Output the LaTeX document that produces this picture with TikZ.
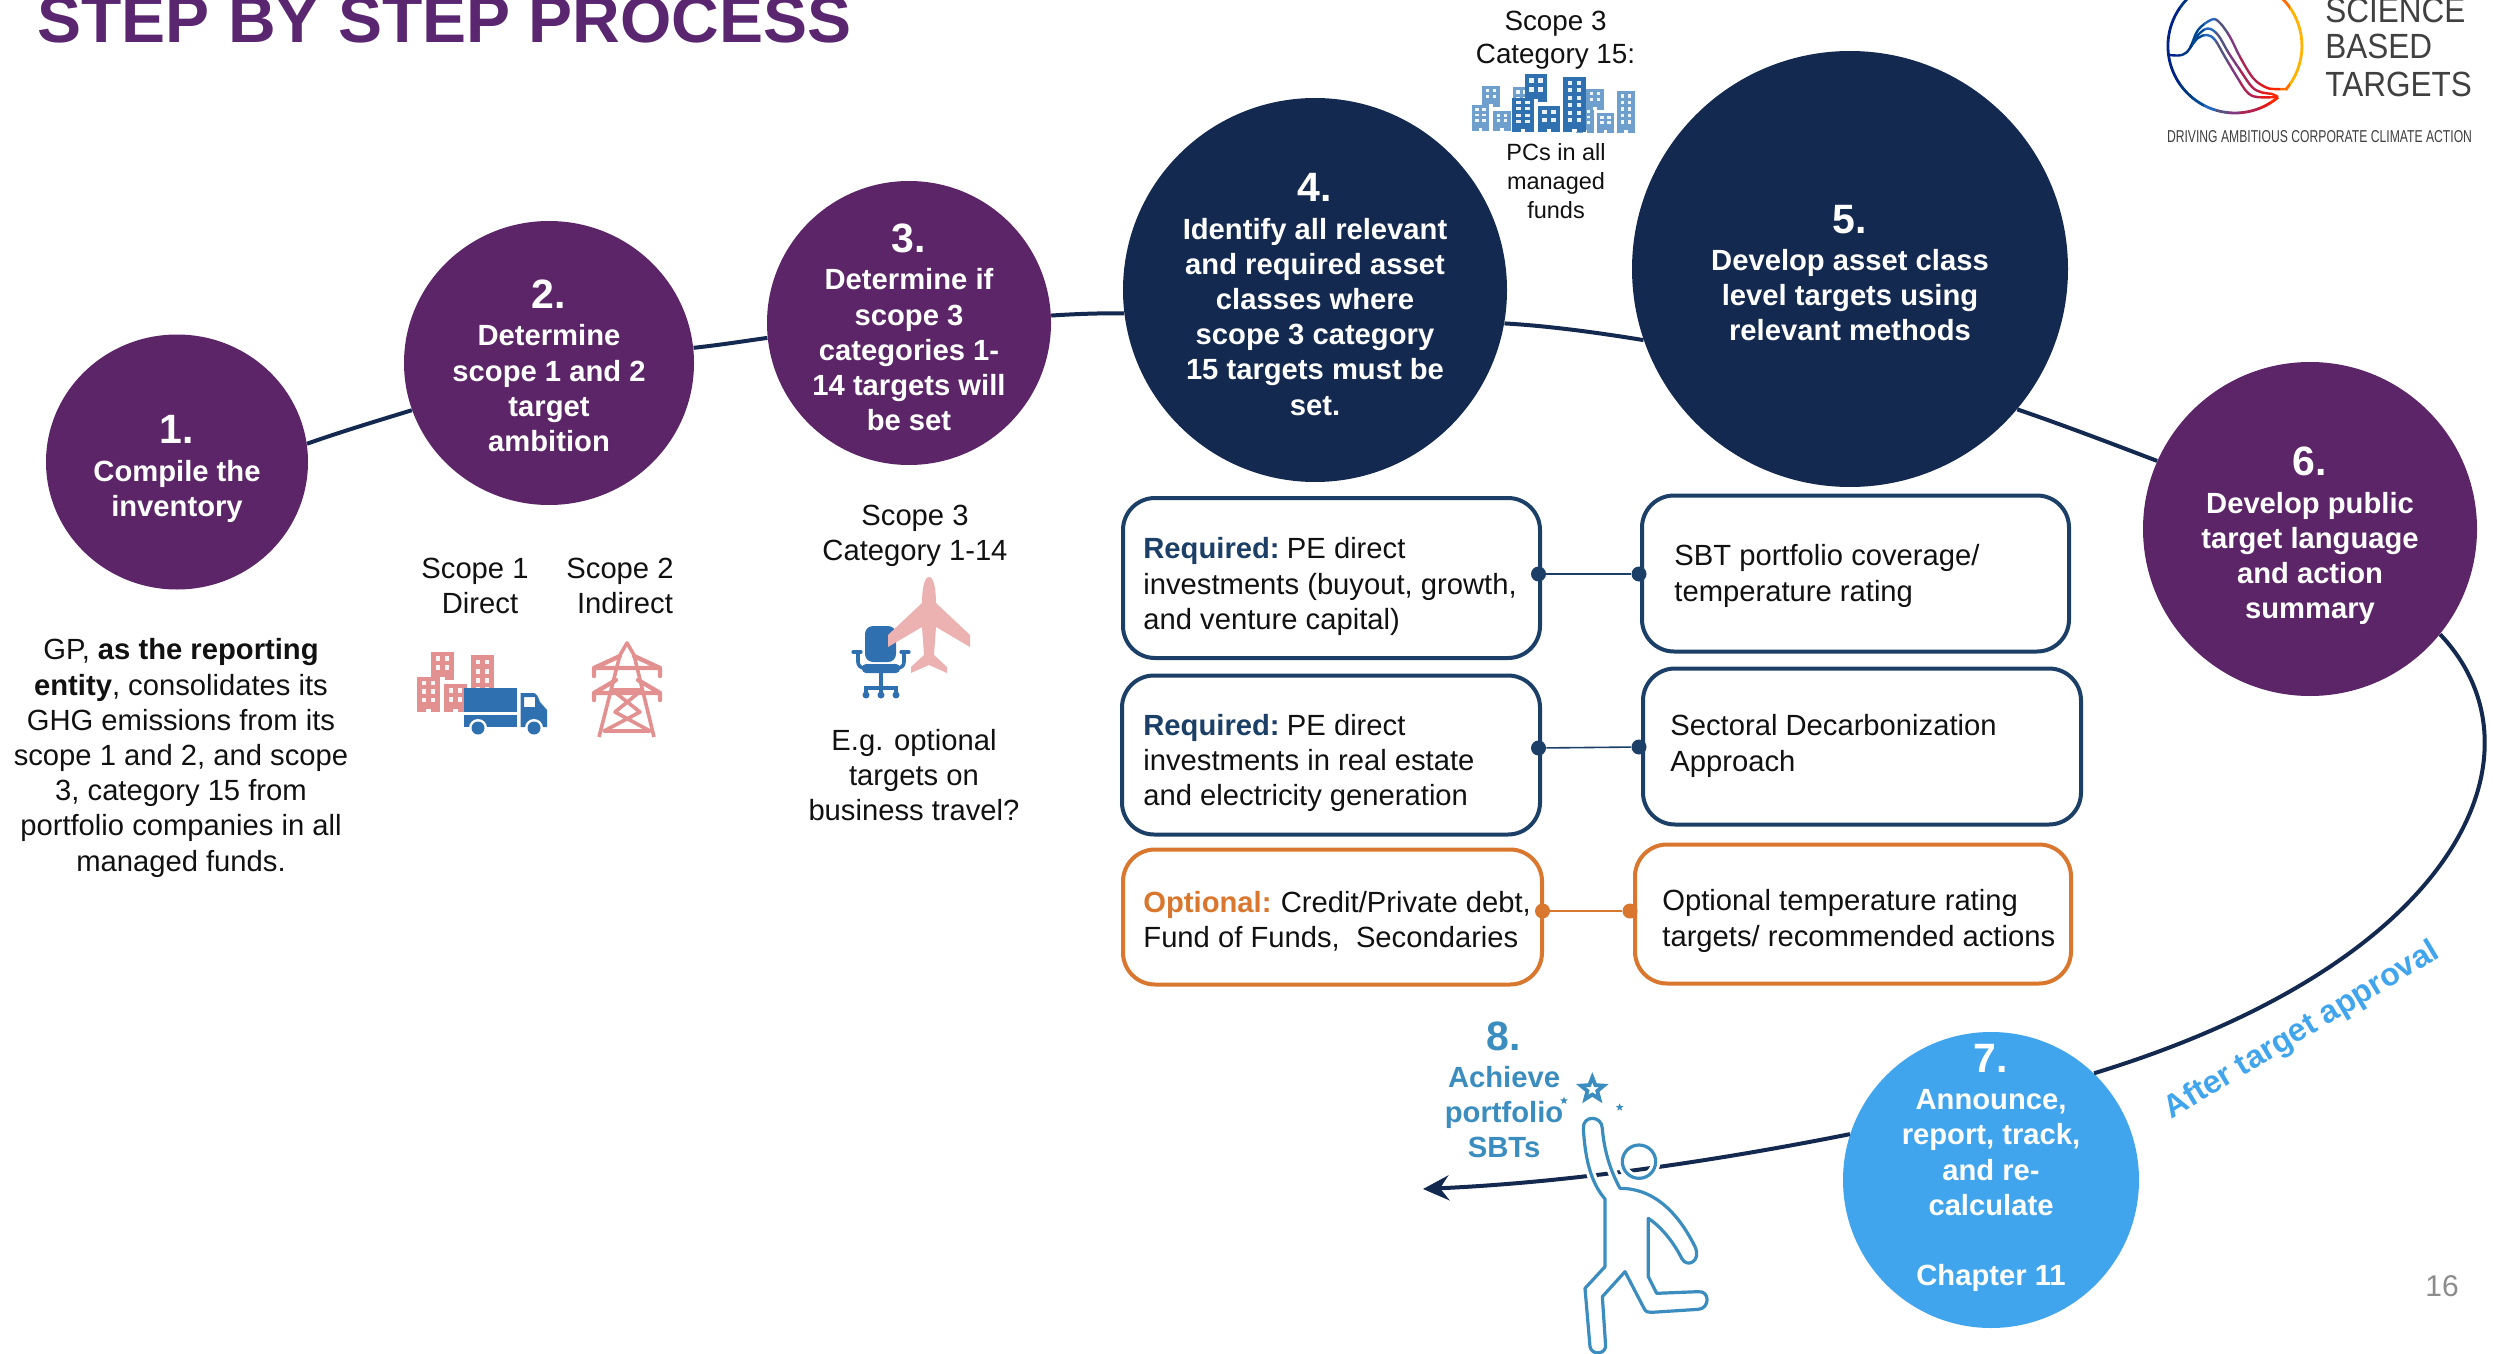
\documentclass[tikz,border=0pt]{standalone}
\usepackage{fontspec}
\setmainfont{Liberation Sans}
\usetikzlibrary{arrows.meta,shapes.geometric}
\definecolor{purp}{HTML}{5C2568}
\definecolor{titlep}{HTML}{5B2670}
\definecolor{navy}{HTML}{14294F}
\definecolor{skyb}{HTML}{41A5EE}
\definecolor{boxb}{HTML}{1B3F66}
\definecolor{oran}{HTML}{D9772F}
\definecolor{eightb}{HTML}{3A8DBE}
\definecolor{pink}{HTML}{E39090}
\definecolor{lpink}{HTML}{ECB2B2}
\definecolor{iconb}{HTML}{2F70B0}
\definecolor{lightb}{HTML}{6F9FCC}
\definecolor{ink}{HTML}{111111}
\tikzset{
  x=0.5pt,y=-0.5pt,
  stepdisc/.style={circle,inner sep=0pt,fill=#1,draw=none},
  stepell/.style={ellipse,inner sep=0pt,fill=#1,draw=none},
  steptxt/.style={align=center,text=white,inner sep=0pt,font=\bodyb},
  plaintxt/.style={align=center,text=ink,inner sep=0pt,font=\bodyr},
  boxtxt/.style={align=left,text=ink,inner sep=0pt,anchor=west,font=\bodyr},
  conbox/.style={draw=#1,line width=2pt,rounded corners=16pt,fill=white,inner sep=0pt,outer sep=0pt,anchor=north west},
  dotn/.style={circle,fill=#1,inner sep=0pt,minimum size=7.5pt},
  link/.style={draw=#1,line width=0.8pt},
  mainc/.style={draw=navy,line width=2pt},
  figline/.style={draw=eightb,line width=1.6pt,line join=round},
  fighalo/.style={draw=white,line width=4.6pt,line join=round},
}
\newcommand{\bodyr}{\fontsize{14.6}{17.6}\selectfont}
\newcommand{\bodyb}{\fontsize{14.6}{17.6}\selectfont\bfseries}
\newcommand{\numf}{\fontsize{20.5}{22}\selectfont\bfseries}
% building: x1 y1 x2 y2 colour cols rows
\newcommand{\bldg}[7]{%
  \fill[#5] (#1,#2) rectangle (#3,#4);
  \pgfmathsetmacro{\bw}{(#3-#1)/(#6*2+1)}
  \pgfmathsetmacro{\bh}{(#4-#2-6)/(#7*2+1)}
  \foreach \cc in {1,...,#6}{\foreach \rr in {1,...,#7}{%
    \fill[white,opacity=.9] ({#1+(2*\cc-1)*\bw},{#2+(2*\rr-1)*\bh}) rectangle ++(\bw,\bh);}}
  \fill[white] ({(#1+#3)/2-\bw/2},{#4-3}) rectangle ++(\bw,3);
}
\newcommand{\logostroke}{%
  \draw[line width=1.4pt] (2278,97.3) arc[start angle=50,end angle=401,radius=67];
  \draw[line width=1.2pt,line join=round] plot[smooth,tension=.6] coordinates {(2169,55)(2182,55)(2190,48)(2198,30)(2212,19.5)(2220,23)(2230,37)(2240,57)(2253,78)(2265,87)(2273,89)(2286,89)};
  \draw[line width=1.2pt,line join=round] plot[smooth,tension=.6] coordinates {(2190,48)(2198,35)(2208,28.5)(2218,35)(2228,52)(2240,70)(2252,87)(2262,92.5)(2272,94)(2278,97)};
  \draw[line width=1.2pt,line join=round] plot[smooth,tension=.6] coordinates {(2190,48)(2198,38)(2207,35)(2215,40)(2225,57)(2237,77)(2247,92)(2257,97)(2278,97)};
}
\begin{document}
\begin{tikzpicture}
\useasboundingbox (0,0) rectangle (2496,1354);
\clip (0,0) rectangle (2496,1354);
\fill[white] (0,0) rectangle (2496,1354);

% title
\node[anchor=base west,inner sep=0pt,text=titlep] (title) at (37,43)
  {\fontsize{33}{36}\selectfont\bfseries STEP BY STEP PROCESS};

% step discs
\node[stepell=purp,minimum width=131pt,minimum height=127.5pt] (c1) at (177,462) {};
\node[stepell=purp,minimum width=145pt,minimum height=142pt] (c2) at (549,363) {};
\node[stepdisc=purp,minimum size=142pt] (c3) at (909,323) {};
\node[stepdisc=navy,minimum size=192pt] (c4) at (1315,290) {};
\node[stepdisc=navy,minimum size=218pt] (c5) at (1850,269) {};
\node[stepdisc=purp,minimum size=167pt] (c6) at (2310,529) {};
\node[stepdisc=skyb,minimum size=148pt] (c7) at (1991,1180) {};
\coordinate (endarrow) at (1423,1189);

% main curve
\path[mainc] (c1.8) .. controls (340,432) and (380,420) .. (c2.199);
\path[mainc] (c2.6) .. controls (720,345) and (745,341) .. (c3.186);
\path[mainc] (c3.3) .. controls (1075,314) and (1100,313) .. (c4.187);
\path[mainc] (c4.-10) .. controls (1550,326) and (1600,333) .. (c5.199);
\path[mainc] (c5.-40.5) .. controls (2060,424) and (2105,441) .. (c6.156);
\path[mainc] (c6.-39.5) .. controls (2550,750) and (2465,960) .. (c7.46);
\path[mainc,-{Stealth[length=13pt,width=12.5pt,inset=4.5pt]}] (c7.162.5) .. controls (1730,1158) and (1580,1182) .. (endarrow);

% step texts
\node[steptxt] (t1) at (177,469) {{\numf 1.}\\[1pt]Compile the\\inventory};
\node[steptxt] (t2) at (549,366) {{\numf 2.}\\[1pt]Determine\\scope 1 and 2\\target\\ambition};
\node[steptxt] (t3) at (909,327.5) {{\numf 3.}\\[1pt]Determine if\\scope 3\\categories 1-\\14 targets will\\be set};
\node[steptxt] (t4) at (1315,294.5) {{\numf 4.}\\[1pt]Identify all relevant\\and required asset\\classes where\\scope 3 category\\15 targets must be\\set.};
\node[steptxt] (t5) at (1850,273) {{\numf 5.}\\[1pt]Develop asset class\\level targets using\\relevant methods};
\node[steptxt] (t6) at (2310,536) {{\numf 6.}\\[1pt]Develop public\\target language\\and action\\summary};
\node[steptxt] (t7) at (1991,1168) {{\numf 7.}\\[1pt]Announce,\\report, track,\\and re-\\calculate\\[17.6pt]Chapter 11};
\node[steptxt,text=eightb] (t8) at (1504,1090) {{\numf 8.}\\[1pt]Achieve\\portfolio\\SBTs};

% plain texts
\node[plaintxt] (gp) at (181,758) {GP, \textbf{as the reporting}\\\textbf{entity}, consolidates its\\GHG emissions from its\\scope 1 and 2, and scope\\3, category 15 from\\portfolio companies in all\\managed funds.};
\node[plaintxt] (s1) at (475,586) {Scope 1\\\hspace*{5pt}Direct};
\node[plaintxt] (s2) at (620,586) {Scope 2\\\hspace*{5pt}Indirect};
\node[plaintxt] (s3) at (915,535.5) {Scope 3\\Category 1-14};
\node[plaintxt] (eg) at (914,775) {E.g. optional\\targets on\\business travel?};
\node[plaintxt,font=\fontsize{13.9}{16.5}\selectfont] (s15) at (1555.5,40.5) {Scope 3\\Category 15:};
\node[plaintxt,font=\fontsize{11.75}{14.5}\selectfont] (pcs) at (1556,181) {PCs in all\\managed\\funds};

% boxes
\node[conbox=boxb,minimum width=208.5pt,minimum height=80pt] (a1) at (1123,498) {};
\node[conbox=boxb,minimum width=213.5pt,minimum height=78pt] (b1) at (1642,495.5) {};
\node[conbox=boxb,minimum width=209pt,minimum height=79.5pt] (a2) at (1122,675.5) {};
\node[conbox=boxb,minimum width=219pt,minimum height=78pt] (b2) at (1643,668.5) {};
\node[conbox=oran,minimum width=209.5pt,minimum height=67.5pt] (a3) at (1123,849.5) {};
\node[conbox=oran,minimum width=218pt,minimum height=69.5pt] (b3) at (1635,844.5) {};

\node[boxtxt] (ta1) at (1143,586.5) {\textcolor{boxb}{\textbf{Required:}}\hspace{.25em}PE direct\\investments (buyout, growth,\\and venture capital)};
\node[boxtxt] (tb1) at (1674,576) {SBT portfolio coverage/\\temperature rating};
\node[boxtxt] (ta2) at (1143,763) {\textcolor{boxb}{\textbf{Required:}}\hspace{.25em}PE direct\\investments in real estate\\and electricity generation};
\node[boxtxt] (tb2) at (1670,746) {Sectoral Decarbonization\\Approach};
\node[boxtxt] (ta3) at (1143,921) {\textcolor{oran}{\textbf{Optional:}}\hspace{.32em}Credit/Private debt,\\Fund of Funds,\ \ Secondaries};
\node[boxtxt] (tb3) at (1662,921) {Optional temperature rating\\targets/ recommended actions};

% box links
\node[dotn=boxb] (d1) at (1538.5,574) {};
\node[dotn=boxb] (e1) at (1639,574) {};
\node[dotn=boxb] (d2) at (1538.5,748) {};
\node[dotn=boxb] (e2) at (1639,747) {};
\node[dotn=oran] (d3) at (1542.5,911) {};
\node[dotn=oran] (e3) at (1630,911) {};
\path[link=boxb] (d1) -- (e1);
\path[link=boxb] (d2) -- (e2);
\path[link=oran] (d3) -- (e3);

% after target approval
\node[text=skyb,inner sep=0pt,rotate=31,font=\fontsize{16}{19}\selectfont\bfseries] (after) at (2302,1031) {After target approval};

% page number
\node[text=black!45,inner sep=0pt,font=\fontsize{15}{18}\selectfont] (pg) at (2442,1286) {16};

% skyline
\bldg{1472}{105}{1489}{131}{lightb}{2}{3}
\bldg{1482}{86}{1500}{107}{lightb}{2}{2}
\bldg{1493}{111}{1511}{131}{lightb}{2}{2}
\bldg{1513}{87}{1530}{110}{lightb}{2}{2}
\bldg{1576}{107}{1594}{133}{lightb}{2}{3}
\bldg{1586}{89}{1604}{110}{lightb}{2}{2}
\bldg{1597}{113}{1614}{133}{lightb}{2}{2}
\bldg{1617}{91}{1635}{133}{lightb}{2}{5}
\bldg{1525}{74}{1547}{102}{iconb}{2}{2}
\bldg{1512}{98}{1534}{132}{iconb}{2}{4}
\bldg{1538}{106}{1560}{132}{iconb}{2}{2}
\bldg{1563}{77}{1586}{132}{iconb}{2}{6}

% scope 1 icon
\bldg{417}{677}{440}{712}{pink}{2}{3}
\bldg{431}{652}{454}{680}{pink}{2}{2}
\bldg{444}{684}{467}{712}{pink}{2}{2}
\bldg{471}{655}{494}{712}{pink}{2}{5}
\fill[iconb] (464,688) rectangle (517,712);
\fill[iconb] (464,715) -- (517,715) -- (517,727) -- (464,727) -- cycle;
\fill[iconb,even odd rule] (520.5,693) -- (533,693) .. controls (537,693) and (538,697) .. (540,702) -- (547,710) -- (547,727) -- (520.5,727) -- cycle (524,697) rectangle (535,707);
\foreach \wx in {478,534}{\fill[white] (\wx,728) circle[radius=9];\fill[iconb] (\wx,728) circle[radius=6.5];}

% tower
\begin{scope}[draw=pink,line width=1.8pt,line join=round]
\draw[pink] (599,737) -- (620,655) -- (627,643) -- (634,655) -- (654,737);
\draw[pink] (612,690) -- (642,690) -- (615,712) -- (650,731) -- (604,731) -- (640,712) -- (612,690);
\draw[pink,line width=2.2pt,line cap=round] (594,676) -- (594,668) -- (620,656) (660,676) -- (660,668) -- (634,656) (594,668) -- (660,668);
\draw[pink,line width=2.2pt,line cap=round] (594,700) -- (594,693) -- (616,680) (660,700) -- (660,693) -- (638,680) (594,693) -- (660,693);
\end{scope}

% chair and plane
\fill[iconb,rounded corners=4pt] (865,662) -- (865,626) -- (896,626) -- (896,662) -- cycle;
\draw[iconb,line width=1.6pt,line cap=round] (853,652) -- (861,652) (901,652) -- (909,652);
\draw[iconb,line width=1.8pt,line cap=round,rounded corners=3pt] (858,652) -- (858,668) -- (904,668) -- (904,652);
\fill[iconb,rounded corners=2pt] (862,664) rectangle (900,673);
\draw[iconb,line width=1.6pt] (881,673) -- (881,687) (866,693) -- (866,688) -- (896,688) -- (896,693);
\draw[iconb,line width=1.6pt] (881,687) -- (881,693);
\foreach \wx in {866,881,896}{\fill[iconb] (\wx,695) circle[radius=3.5];}
\fill[lpink] (929,577) .. controls (934,577) and (936,590) .. (936,603) -- (970,635) -- (970,647) -- (936,627) -- (934,655) -- (947,667) -- (947,673) -- (929,665) -- (911,673) -- (911,667) -- (924,655) -- (922,627) -- (888,647) -- (888,635) -- (922,603) .. controls (922,590) and (924,577) .. (929,577) -- cycle;

% figure
\begin{scope}[shift={(1400,1000)},scale=1/3]
\def\figpath{(555,865) -- (570,1040) .. controls (575,1065) and (612,1065) .. (617,1040) -- (607,890) -- (675,815) -- (732,925) .. controls (738,937) and (745,937) .. (755,937) -- (895,928) .. controls (930,925) and (930,872) .. (895,875) -- (770,880) -- (745,830) -- (745,655) .. controls (790,685) and (825,735) .. (845,775) .. controls (860,805) and (905,785) .. (885,740) .. controls (840,650) and (770,565) .. (660,565) .. controls (630,510) and (612,450) .. (607,385) .. controls (605,345) and (548,345) .. (550,385) .. controls (555,470) and (570,545) .. (615,597) -- (615,800) -- cycle}
\path[fighalo] \figpath;
\path[figline] \figpath;
\draw[fighalo] (717,485) circle[radius=50];
\draw[figline] (717,485) circle[radius=50];
\node[star,star points=5,star point ratio=2.3,minimum size=12pt,inner sep=0pt,draw=eightb,line width=1.9pt,fill=white] (st1) at (577,268) {};
\node[star,star points=5,star point ratio=2.3,minimum size=4pt,inner sep=0pt,fill=eightb] (st2) at (492,302) {};
\node[star,star points=5,star point ratio=2.3,minimum size=4pt,inner sep=0pt,fill=eightb] (st3) at (659,322) {};
\end{scope}

% logo
\foreach \xa/\xb/\lc in {
 2160/2180/{black!55!teal!60!blue},2180/2192/{black!40!teal!70!blue},2192/2204/{black!20!teal!70!blue},
 2204/2216/{teal!60!blue!85!white},2216/2228/{teal!50!violet!70!gray},2228/2240/{violet!55!gray},
 2240/2250/{violet!50!red!70!gray},2250/2260/{red!55!violet!75!gray},2260/2270/{red!80!gray},
 2270/2280/{red!70!orange},2280/2290/{orange!85!red},2290/2310/{orange!60!yellow}}{
  \begin{scope}
  \clip (\xa,-5) rectangle (\xb,130);
  \begin{scope}[draw=\lc,color=\lc]
  \logostroke
  \end{scope}
  \end{scope}
}
\node[anchor=base west,inner sep=0pt,text=black!75] (lg1) at (2325,23) {\scalebox{.9}[1]{\fontsize{17.5}{20}\selectfont SCIENCE}};
\node[anchor=base west,inner sep=0pt,text=black!75] (lg2) at (2325,59) {\scalebox{.9}[1]{\fontsize{17.5}{20}\selectfont BASED}};
\node[anchor=base west,inner sep=0pt,text=black!75] (lg3) at (2325,97) {\scalebox{.9}[1]{\fontsize{17.5}{20}\selectfont TARGETS}};
\node[anchor=center,inner sep=0pt,text=black!75] (lg4) at (2319.5,137) {\resizebox{152.5pt}{6pt}{\fontsize{8}{9}\selectfont DRIVING AMBITIOUS CORPORATE CLIMATE ACTION}};
\end{tikzpicture}
\end{document}
